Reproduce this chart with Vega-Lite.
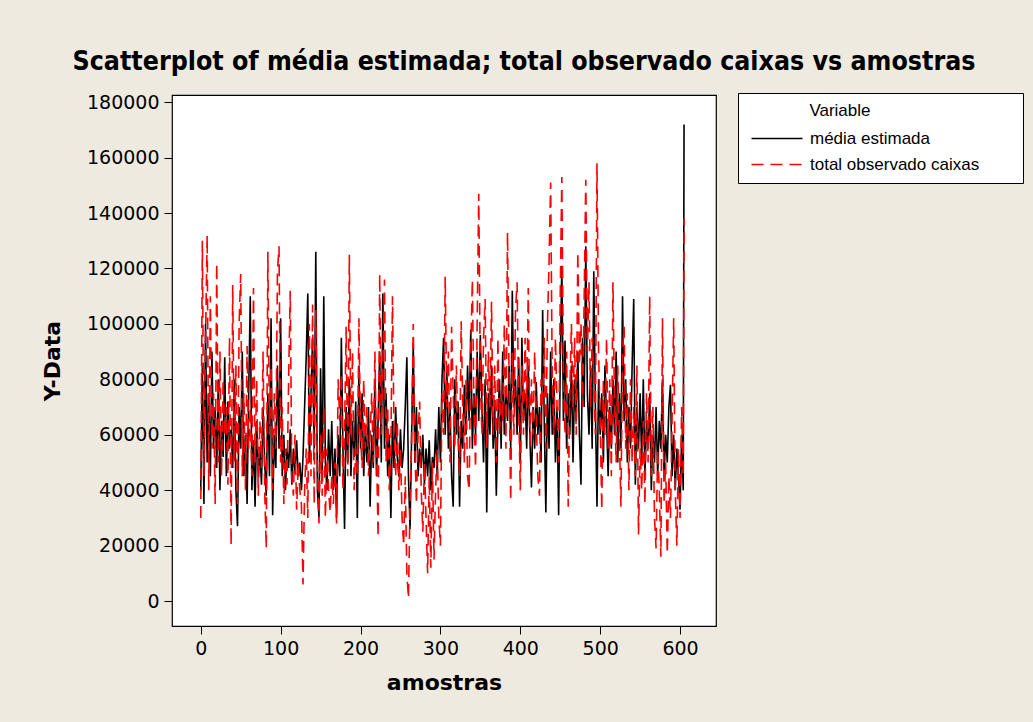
{
  "$schema": "https://vega.github.io/schema/vega-lite/v6.json",
  "width": 544,
  "height": 531,
  "autosize": "none",
  "padding": {"left": 172, "top": 95, "right": 317, "bottom": 96},
  "background": "#EEEAE0",
  "config": {
    "view": {"fill": "white", "stroke": "black", "strokeWidth": 1.2},
    "font": "DejaVu Sans"
  },
  "title": {
    "text": "Scatterplot of média estimada; total observado caixas vs amostras",
    "font": "DejaVu Sans Condensed, DejaVu Sans",
    "fontSize": 26.5,
    "fontWeight": "bold",
    "color": "black",
    "anchor": "middle",
    "frame": "group",
    "dx": 80,
    "offset": 17
  },
  "data": {
    "values": [
      {"a":0,"m":40000,"t":30000},{"a":2,"m":85000,"t":130000},{"a":4,"m":35000,"t":45000},{"a":6,"m":100000,"t":95000},{"a":8,"m":50000,"t":132000},
      {"a":10,"m":75000,"t":40000},{"a":12,"m":45000,"t":110000},{"a":14,"m":90000,"t":55000},{"a":16,"m":55000,"t":75000},{"a":18,"m":70000,"t":35000},
      {"a":20,"m":48000,"t":122000},{"a":22,"m":80000,"t":50000},{"a":24,"m":40000,"t":90000},{"a":26,"m":65000,"t":45000},{"a":28,"m":52000,"t":80000},
      {"a":30,"m":88000,"t":60000},{"a":32,"m":45000,"t":70000},{"a":34,"m":72000,"t":42000},{"a":36,"m":55000,"t":95000},{"a":38,"m":62000,"t":20000},
      {"a":40,"m":48000,"t":114000},{"a":42,"m":80000,"t":50000},{"a":44,"m":40000,"t":85000},{"a":46,"m":27000,"t":35000},{"a":48,"m":70000,"t":100000},
      {"a":50,"m":55000,"t":118000},{"a":52,"m":90000,"t":45000},{"a":54,"m":45000,"t":75000},{"a":56,"m":60000,"t":40000},{"a":58,"m":35000,"t":92000},
      {"a":60,"m":75000,"t":55000},{"a":62,"m":110000,"t":70000},{"a":64,"m":40000,"t":45000},{"a":66,"m":58000,"t":113000},{"a":68,"m":34000,"t":50000},
      {"a":70,"m":65000,"t":80000},{"a":72,"m":45000,"t":38000},{"a":74,"m":55000,"t":65000},{"a":76,"m":42000,"t":48000},{"a":78,"m":70000,"t":90000},
      {"a":80,"m":50000,"t":40000},{"a":82,"m":38000,"t":19000},{"a":84,"m":75000,"t":126000},{"a":86,"m":45000,"t":60000},{"a":88,"m":102000,"t":85000},
      {"a":90,"m":31000,"t":40000},{"a":92,"m":60000,"t":75000},{"a":94,"m":48000,"t":55000},{"a":96,"m":85000,"t":119000},{"a":98,"m":55000,"t":128000},
      {"a":100,"m":102000,"t":50000},{"a":102,"m":45000,"t":70000},{"a":104,"m":60000,"t":35000},{"a":106,"m":40000,"t":55000},{"a":108,"m":55000,"t":42000},
      {"a":110,"m":48000,"t":80000},{"a":112,"m":62000,"t":112000},{"a":114,"m":42000,"t":45000},{"a":116,"m":55000,"t":38000},{"a":118,"m":46000,"t":60000},
      {"a":120,"m":58000,"t":33000},{"a":122,"m":45000,"t":50000},{"a":124,"m":50000,"t":40000},{"a":126,"m":40000,"t":35000},{"a":128,"m":52000,"t":6000},
      {"a":130,"m":70000,"t":40000},{"a":132,"m":88000,"t":55000},{"a":134,"m":111000,"t":30000},{"a":136,"m":50000,"t":100000},{"a":138,"m":75000,"t":45000},
      {"a":140,"m":95000,"t":107000},{"a":142,"m":55000,"t":35000},{"a":144,"m":126000,"t":105000},{"a":146,"m":40000,"t":50000},{"a":148,"m":30000,"t":28000},
      {"a":150,"m":84000,"t":60000},{"a":152,"m":45000,"t":38000},{"a":154,"m":110000,"t":70000},{"a":156,"m":50000,"t":30000},{"a":158,"m":40000,"t":55000},
      {"a":160,"m":62000,"t":40000},{"a":162,"m":45000,"t":32000},{"a":164,"m":65000,"t":45000},{"a":166,"m":40000,"t":35000},{"a":168,"m":55000,"t":50000},
      {"a":170,"m":30000,"t":28000},{"a":172,"m":60000,"t":80000},{"a":174,"m":45000,"t":65000},{"a":176,"m":95000,"t":82000},{"a":178,"m":55000,"t":40000},
      {"a":180,"m":26000,"t":60000},{"a":182,"m":70000,"t":99000},{"a":184,"m":50000,"t":45000},{"a":186,"m":80000,"t":125000},{"a":188,"m":45000,"t":60000},
      {"a":190,"m":65000,"t":90000},{"a":192,"m":52000,"t":40000},{"a":194,"m":72000,"t":55000},{"a":196,"m":30000,"t":45000},{"a":198,"m":85000,"t":102000},
      {"a":200,"m":55000,"t":60000},{"a":202,"m":75000,"t":48000},{"a":204,"m":45000,"t":80000},{"a":206,"m":62000,"t":55000},{"a":208,"m":50000,"t":70000},
      {"a":210,"m":70000,"t":45000},{"a":212,"m":34000,"t":60000},{"a":214,"m":60000,"t":75000},{"a":216,"m":48000,"t":50000},{"a":218,"m":80000,"t":90000},
      {"a":220,"m":45000,"t":55000},{"a":222,"m":65000,"t":23000},{"a":224,"m":90000,"t":118000},{"a":226,"m":50000,"t":60000},{"a":228,"m":111000,"t":85000},
      {"a":230,"m":55000,"t":116000},{"a":232,"m":75000,"t":50000},{"a":234,"m":45000,"t":70000},{"a":236,"m":60000,"t":40000},{"a":238,"m":30000,"t":55000},
      {"a":240,"m":65000,"t":110000},{"a":242,"m":48000,"t":60000},{"a":244,"m":70000,"t":45000},{"a":246,"m":52000,"t":65000},{"a":248,"m":45000,"t":40000},
      {"a":250,"m":62000,"t":55000},{"a":252,"m":48000,"t":30000},{"a":254,"m":55000,"t":20000},{"a":256,"m":70000,"t":45000},{"a":258,"m":88000,"t":10000},
      {"a":260,"m":45000,"t":1000},{"a":262,"m":26000,"t":35000},{"a":264,"m":60000,"t":60000},{"a":266,"m":93000,"t":100000},{"a":268,"m":50000,"t":55000},
      {"a":270,"m":70000,"t":35000},{"a":272,"m":45000,"t":60000},{"a":274,"m":55000,"t":72000},{"a":276,"m":48000,"t":40000},{"a":278,"m":60000,"t":25000},
      {"a":280,"m":42000,"t":50000},{"a":282,"m":55000,"t":30000},{"a":284,"m":45000,"t":10000},{"a":286,"m":58000,"t":45000},{"a":288,"m":40000,"t":12000},
      {"a":290,"m":52000,"t":50000},{"a":292,"m":48000,"t":15000},{"a":294,"m":62000,"t":40000},{"a":296,"m":45000,"t":55000},{"a":298,"m":70000,"t":30000},
      {"a":300,"m":50000,"t":20000},{"a":302,"m":80000,"t":75000},{"a":304,"m":95000,"t":60000},{"a":306,"m":60000,"t":117000},{"a":308,"m":85000,"t":70000},
      {"a":310,"m":55000,"t":90000},{"a":312,"m":70000,"t":50000},{"a":314,"m":45000,"t":99000},{"a":316,"m":34000,"t":75000},{"a":318,"m":80000,"t":55000},
      {"a":320,"m":60000,"t":85000},{"a":322,"m":72000,"t":60000},{"a":324,"m":34000,"t":45000},{"a":326,"m":65000,"t":101000},{"a":328,"m":55000,"t":70000},
      {"a":330,"m":78000,"t":50000},{"a":332,"m":60000,"t":80000},{"a":334,"m":85000,"t":45000},{"a":336,"m":65000,"t":40000},{"a":338,"m":98000,"t":90000},
      {"a":340,"m":55000,"t":116000},{"a":342,"m":75000,"t":70000},{"a":344,"m":60000,"t":48000},{"a":346,"m":90000,"t":100000},{"a":348,"m":65000,"t":147000},
      {"a":350,"m":96000,"t":80000},{"a":352,"m":70000,"t":60000},{"a":354,"m":50000,"t":95000},{"a":356,"m":80000,"t":109000},{"a":358,"m":32000,"t":55000},
      {"a":360,"m":75000,"t":90000},{"a":362,"m":60000,"t":70000},{"a":364,"m":85000,"t":108000},{"a":366,"m":55000,"t":60000},{"a":368,"m":70000,"t":85000},
      {"a":370,"m":38000,"t":50000},{"a":372,"m":65000,"t":95000},{"a":374,"m":80000,"t":60000},{"a":376,"m":55000,"t":75000},{"a":378,"m":90000,"t":65000},
      {"a":380,"m":60000,"t":100000},{"a":382,"m":75000,"t":55000},{"a":384,"m":65000,"t":133000},{"a":386,"m":85000,"t":80000},{"a":388,"m":55000,"t":36000},
      {"a":390,"m":112000,"t":90000},{"a":392,"m":70000,"t":60000},{"a":394,"m":80000,"t":105000},{"a":396,"m":60000,"t":115000},{"a":398,"m":88000,"t":70000},
      {"a":400,"m":50000,"t":40000},{"a":402,"m":95000,"t":85000},{"a":404,"m":65000,"t":60000},{"a":406,"m":75000,"t":95000},{"a":408,"m":55000,"t":70000},
      {"a":410,"m":85000,"t":113000},{"a":412,"m":60000,"t":55000},{"a":414,"m":41000,"t":80000},{"a":416,"m":70000,"t":60000},{"a":418,"m":55000,"t":90000},
      {"a":420,"m":79000,"t":65000},{"a":422,"m":60000,"t":45000},{"a":424,"m":70000,"t":38000},{"a":426,"m":50000,"t":80000},{"a":428,"m":105000,"t":70000},
      {"a":430,"m":65000,"t":95000},{"a":432,"m":32000,"t":55000},{"a":434,"m":75000,"t":100000},{"a":436,"m":55000,"t":122000},{"a":438,"m":90000,"t":151000},
      {"a":440,"m":60000,"t":80000},{"a":442,"m":80000,"t":60000},{"a":444,"m":50000,"t":95000},{"a":446,"m":70000,"t":70000},{"a":448,"m":31000,"t":50000},
      {"a":450,"m":85000,"t":110000},{"a":452,"m":121000,"t":153000},{"a":454,"m":65000,"t":80000},{"a":456,"m":94000,"t":60000},{"a":458,"m":55000,"t":90000},
      {"a":460,"m":75000,"t":34000},{"a":462,"m":60000,"t":75000},{"a":464,"m":85000,"t":100000},{"a":466,"m":50000,"t":70000},{"a":468,"m":80000,"t":95000},
      {"a":470,"m":65000,"t":60000},{"a":472,"m":90000,"t":126000},{"a":474,"m":60000,"t":85000},{"a":476,"m":42000,"t":100000},{"a":478,"m":95000,"t":70000},
      {"a":480,"m":70000,"t":110000},{"a":482,"m":128000,"t":152000},{"a":484,"m":75000,"t":90000},{"a":486,"m":60000,"t":115000},{"a":488,"m":85000,"t":70000},
      {"a":490,"m":55000,"t":95000},{"a":492,"m":119000,"t":80000},{"a":494,"m":70000,"t":60000},{"a":496,"m":34000,"t":158000},{"a":498,"m":80000,"t":90000},
      {"a":500,"m":60000,"t":65000},{"a":502,"m":75000,"t":33000},{"a":504,"m":50000,"t":80000},{"a":506,"m":85000,"t":60000},{"a":508,"m":65000,"t":95000},
      {"a":510,"m":45000,"t":55000},{"a":512,"m":70000,"t":80000},{"a":514,"m":55000,"t":45000},{"a":516,"m":80000,"t":115000},{"a":518,"m":60000,"t":70000},
      {"a":520,"m":90000,"t":50000},{"a":522,"m":50000,"t":85000},{"a":524,"m":75000,"t":60000},{"a":526,"m":55000,"t":34000},{"a":528,"m":110000,"t":90000},
      {"a":530,"m":65000,"t":99000},{"a":532,"m":80000,"t":55000},{"a":534,"m":50000,"t":75000},{"a":536,"m":70000,"t":40000},{"a":538,"m":55000,"t":80000},
      {"a":540,"m":85000,"t":50000},{"a":542,"m":109000,"t":70000},{"a":544,"m":42000,"t":45000},{"a":546,"m":70000,"t":85000},{"a":548,"m":55000,"t":24000},
      {"a":550,"m":75000,"t":55000},{"a":552,"m":50000,"t":40000},{"a":554,"m":80000,"t":65000},{"a":556,"m":45000,"t":35000},{"a":558,"m":65000,"t":75000},
      {"a":560,"m":55000,"t":50000},{"a":562,"m":75000,"t":110000},{"a":564,"m":40000,"t":45000},{"a":566,"m":60000,"t":70000},{"a":568,"m":50000,"t":30000},
      {"a":570,"m":70000,"t":19000},{"a":572,"m":45000,"t":55000},{"a":574,"m":65000,"t":40000},{"a":576,"m":55000,"t":16000},{"a":578,"m":80000,"t":102000},
      {"a":580,"m":45000,"t":35000},{"a":582,"m":60000,"t":50000},{"a":584,"m":50000,"t":17000},{"a":586,"m":70000,"t":45000},{"a":588,"m":78000,"t":30000},
      {"a":590,"m":45000,"t":65000},{"a":592,"m":60000,"t":102000},{"a":594,"m":40000,"t":40000},{"a":596,"m":55000,"t":20000},{"a":598,"m":45000,"t":55000},
      {"a":600,"m":33000,"t":30000},{"a":602,"m":60000,"t":70000},{"a":604,"m":40000,"t":45000},{"a":605,"m":172000,"t":138000}
    ]
  },
  "transform": [{"fold": ["m", "t"], "as": ["s", "v"]}],
  "mark": {"type": "line", "strokeWidth": 1.6, "clip": true},
  "encoding": {
    "x": {
      "field": "a",
      "type": "quantitative",
      "scale": {"domain": [-36, 645], "nice": false, "zero": false},
      "axis": {
        "values": [0, 100, 200, 300, 400, 500, 600],
        "title": "amostras",
        "grid": false,
        "domain": false,
        "tickColor": "black",
        "tickSize": 8,
        "labelFont": "DejaVu Sans",
        "labelFontSize": 19,
        "labelColor": "black",
        "labelPadding": 5,
        "titleFont": "DejaVu Sans",
        "titleFontSize": 22,
        "titleFontWeight": "bold",
        "titleColor": "black",
        "titlePadding": 14
      }
    },
    "y": {
      "field": "v",
      "type": "quantitative",
      "scale": {"domain": [-9000, 182600], "nice": false, "zero": false},
      "axis": {
        "values": [0, 20000, 40000, 60000, 80000, 100000, 120000, 140000, 160000, 180000],
        "format": "d",
        "title": "Y-Data",
        "grid": false,
        "domain": false,
        "tickColor": "black",
        "tickSize": 8,
        "labelFont": "DejaVu Sans",
        "labelFontSize": 19,
        "labelColor": "black",
        "labelPadding": 5,
        "titleFont": "DejaVu Sans",
        "titleFontSize": 22,
        "titleFontWeight": "bold",
        "titleColor": "black",
        "titlePadding": 22
      }
    },
    "color": {
      "field": "s",
      "type": "nominal",
      "scale": {"domain": ["m", "t"], "range": ["#000000", "#FF0000"]},
      "legend": {
        "title": "\u200b\u00a0\u00a0\u00a0\u00a0\u00a0\u00a0\u00a0\u00a0\u00a0\u00a0\u00a0\u00a0\u00a0Variable\u00a0\u00a0\u00a0\u00a0\u00a0\u00a0\u00a0\u00a0\u00a0\u00a0\u00a0\u00a0\u00a0\u00a0\u00a0\u00a0\u00a0\u00a0\u00a0\u00a0\u00a0\u00a0\u00a0\u00a0\u00a0\u00a0\u00a0\u00a0\u00a0\u00a0\u200b",
        "orient": "none",
        "legendX": 566,
        "legendY": -2,
        "fillColor": "white",
        "strokeColor": "black",
        "padding": 10,
        "symbolType": "M-1,0H9.2",
        "symbolSize": 100,
        "symbolStrokeWidth": 1.5,
        "labelExpr": "datum.value == 'm' ? 'média estimada' : 'total observado caixas'",
        "labelLimit": 400,
        "titleLimit": 400,
        "labelFont": "Liberation Sans",
        "labelFontSize": 17,
        "labelColor": "black",
        "labelOffset": 45,
        "titleFont": "Liberation Sans",
        "titleFontSize": 17,
        "titleFontWeight": "normal",
        "titleColor": "black",
        "titlePadding": 10,
        "rowPadding": 8
      }
    },
    "strokeDash": {
      "field": "s",
      "type": "nominal",
      "scale": {"domain": ["m", "t"], "range": [[1, 0], [12, 7]]}
    }
  }
}
